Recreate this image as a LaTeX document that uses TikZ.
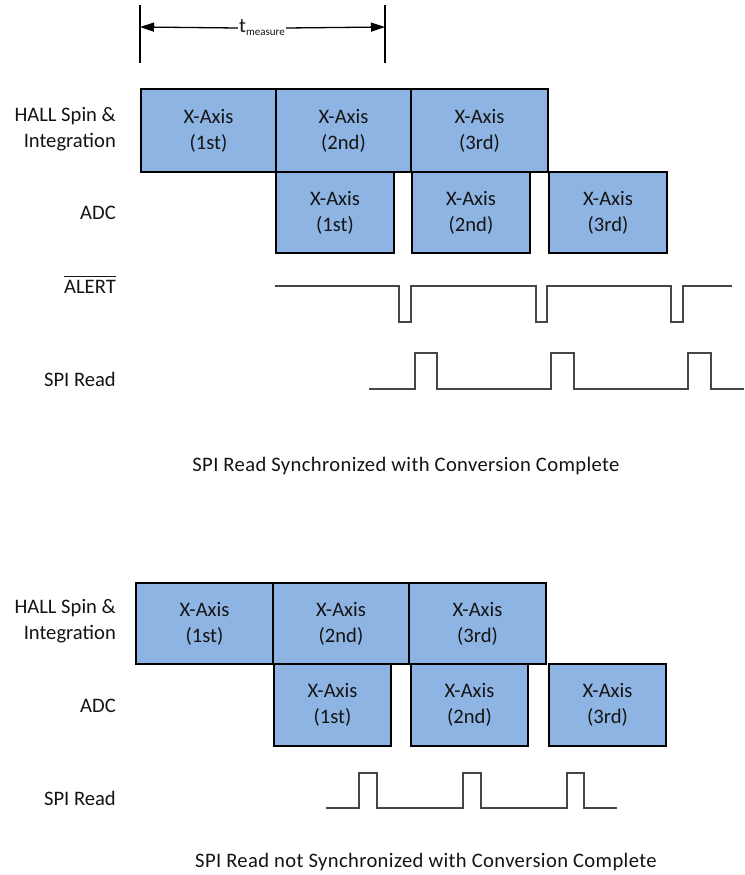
\documentclass[tikz,border=0pt]{standalone}
\usepackage{fontspec}
\setmainfont{Carlito}
\newfontfamily\capfont[LetterSpace=1.8]{Carlito}
\usetikzlibrary{arrows.meta}
\definecolor{boxblue}{RGB}{142,180,227}
\definecolor{wave}{RGB}{70,70,70}
\definecolor{txt}{RGB}{20,20,20}
\begin{document}
\begin{tikzpicture}[x=1pt,y=-1pt,
  every node/.style={font=\fontsize{20.6}{26}\selectfont, text=txt},
  box/.style={draw=black, line width=2pt, fill=boxblue, anchor=north west, align=center, inner sep=0pt},
  lbl/.style={anchor=east, align=right, inner sep=0pt},
  captxt/.style={inner sep=0pt, font=\capfont\fontsize{20.6}{26}\selectfont},
  wv/.style={draw=wave, line width=1.6pt, line join=miter},
  dimln/.style={draw=black, line width=1.3pt}]
\useasboundingbox (0,0) rectangle (744,875);

% ---------- top diagram ----------
% dimension
\coordinate (tl1) at (140,5);
\coordinate (tl2) at (140,63);
\coordinate (tr1) at (385,5);
\coordinate (tr2) at (385,63);
\draw[dimln, line width=1.8pt] (tl1) -- (tl2);
\draw[dimln, line width=1.8pt] (tr1) -- (tr2);
\coordinate (dl) at (140,27);
\coordinate (dr) at (385,27);
\node[inner sep=0pt, fill=white, inner xsep=1pt] (tm) at (262,28) {t{\fontsize{11}{12}\selectfont\raisebox{-3pt}{measure}}};
\draw[dimln, -{Triangle[length=14pt,width=9pt]}] (tm.west) -- (dl);
\draw[dimln, -{Triangle[length=14pt,width=9pt]}] (tm.east) -- (dr);

% HALL boxes
\node[box, minimum width=135pt, minimum height=83pt] (h1) at (140,88) {X-Axis\\(1st)};
\node[box, minimum width=135pt, minimum height=83pt] (h2) at (275,88) {X-Axis\\(2nd)};
\node[box, minimum width=137pt, minimum height=83pt] (h3) at (410,88) {X-Axis\\(3rd)};
% ADC boxes
\node[box, minimum width=118pt, minimum height=81pt] (a1) at (275,171) {X-Axis\\(1st)};
\node[box, minimum width=118pt, minimum height=81pt] (a2) at (411,171) {X-Axis\\(2nd)};
\node[box, minimum width=118pt, minimum height=81pt] (a3) at (548,171) {X-Axis\\(3rd)};

% labels
\node[lbl] (lh) at (116,129) {HALL Spin \&\\Integration};
\node[lbl] (la) at (116,213) {ADC};
\node[lbl] (lal) at (116,287) {ALERT};
\draw[draw=txt, line width=1pt] ([yshift=4pt]lal.north west) -- ([yshift=4pt]lal.north east);
\node[lbl] (ls) at (116,379) {SPI Read};

% ALERT waveform
\draw[wv] (275,286) -- (399,286) -- (399,322) -- (411,322) -- (411,286)
  -- (536,286) -- (536,322) -- (547,322) -- (547,286)
  -- (671,286) -- (671,322) -- (683,322) -- (683,286) -- (732,286);
% SPI read waveform
\draw[wv] (369,389) -- (415,389) -- (415,353) -- (437,353) -- (437,389)
  -- (551,389) -- (551,353) -- (574,353) -- (574,389)
  -- (688,389) -- (688,353) -- (711,353) -- (711,389) -- (744,389);

\node[captxt] (c1) at (406,466) {SPI Read Synchronized with Conversion Complete};

% ---------- bottom diagram ----------
\node[box, minimum width=137pt, minimum height=81pt] (bh1) at (135,582) {X-Axis\\(1st)};
\node[box, minimum width=136pt, minimum height=81pt] (bh2) at (272,582) {X-Axis\\(2nd)};
\node[box, minimum width=137pt, minimum height=81pt] (bh3) at (408,582) {X-Axis\\(3rd)};
\node[box, minimum width=117pt, minimum height=82pt] (ba1) at (273,663) {X-Axis\\(1st)};
\node[box, minimum width=117pt, minimum height=82pt] (ba2) at (410,663) {X-Axis\\(2nd)};
\node[box, minimum width=117pt, minimum height=82pt] (ba3) at (548,663) {X-Axis\\(3rd)};

\node[lbl] (blh) at (116,621) {HALL Spin \&\\Integration};
\node[lbl] (bla) at (116,706) {ADC};
\node[lbl] (bls) at (116,798) {SPI Read};

\draw[wv] (326,808) -- (359,808) -- (359,773) -- (377,773) -- (377,808)
  -- (463,808) -- (463,773) -- (481,773) -- (481,808)
  -- (567,808) -- (567,773) -- (584,773) -- (584,808) -- (617,808);

\node[captxt] (c2) at (426,862) {SPI Read not Synchronized with Conversion Complete};
\end{tikzpicture}
\end{document}
